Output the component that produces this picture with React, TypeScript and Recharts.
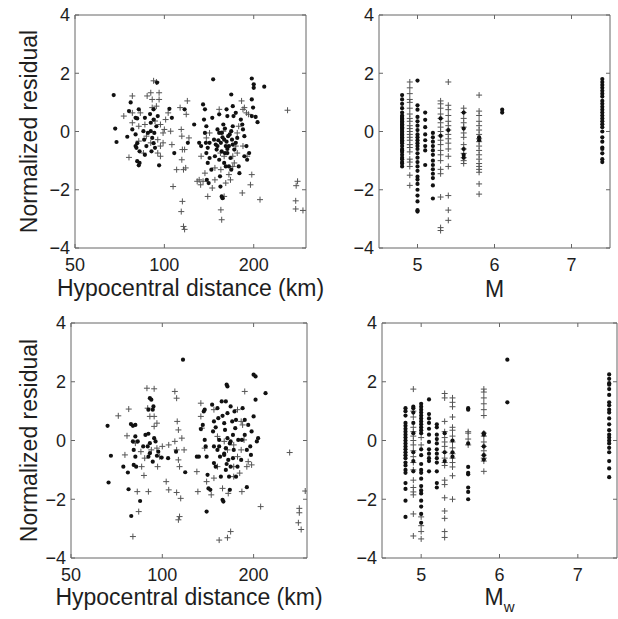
import { ScatterChart, Scatter, XAxis, YAxis } from 'recharts';

const font = '"Liberation Sans", Arial, Helvetica, sans-serif';

const distTicks = [50, 100, 200];
const magTicks = [5, 6, 7];
const resTicks = [-4, -2, 0, 2, 4];

// top row: residual vs hypocentral distance, [km, residual]
const topDistDots = [
  [67.5, 1.25], [68.3, 0.1], [69, -0.36], [75, -0.18], [77, 1.0], [76, 0.7], [80, 0.47], [81, 0.45], [78, 0.07],
  [80, -0.1], [81, -0.4], [80.5, -0.56], [82.5, -0.68], [82.5, -1.08], [81, -1.02], [82, -1.16], [86, -0.8],
  [87, -0.5], [88, -0.05], [90, 0.3], [91, -0.22], [92, -0.4], [93, -0.56], [94, 0.18], [95, 0.53], [92.5, -0.05],
  [90.5, -0.68], [96, -1.16], [94.5, 1.68], [92, 0.76], [89.5, 0.6], [85, 0.01], [85.5, -0.28], [104, 0.78],
  [106, 0.47], [108, -0.74], [117, 0.76], [120, -0.39], [126, 0.24], [131, -0.39], [133, -0.5], [135, 0.93],
  [137, 0.76], [136, 0.41], [137, -0.05], [138, -0.39], [138.5, -0.74], [140, -0.56], [139, -1.66], [141, -1.77],
  [144, -1.31], [140, -1.08], [142, -0.91], [145, 0.47], [146, 1.79], [147, -0.28], [150, -0.62], [151, 0.07],
  [153, -0.05], [153, -0.97], [154, -1.54], [155, -0.39], [156, -0.05], [158, 0.24], [159, -0.28], [160, -0.74],
  [161, -1.2], [154.5, -1.89], [156, -2.23], [157, -2.29], [162, 0.76], [163, 0.53], [164, -0.16], [165, -0.5],
  [167, -0.91], [168, 0.01], [169, -0.28], [170, 0.87], [168, 1.27], [171, 0.53], [172, -0.62], [174, -0.39],
  [176, -0.22], [178, -1.2], [179, -1.43], [181, 0.41], [183, 0.24], [184, 0.07], [186, -0.16], [189, -0.5],
  [186, -0.85], [190, -0.97], [193, -0.74], [197, 1.82], [200, 1.62], [200, 1.5], [197, 1.1], [199, 0.82],
  [197, 0.53], [203, 0.5], [206, 0.32], [217, 1.54], [174, 0.64], [153, 0.59], [148, -0.85], [159, -1.08],
  [165, -1.2], [157, -0.2], [162, -0.35], [166, -0.1], [160, 0.1], [152, -0.3], [149, -0.45], [170, -0.45],
  [163, -0.6], [80, -0.5], [90, 0.01], [86, 0.47], [92, 0.41], [82, 0.76], [138.5, 0.18], [142, -0.39],
  [151, -0.5], [161, -0.5], [170, 0.18], [163, -0.74], [168, -1.31], [156, -0.68],
];
const topDistPlus = [
  [73, 0.53], [76, -0.89], [78, 1.22], [78, 0.64], [78, 0.3], [82, 0.18], [83, 0.64], [87.5, 1.22], [90, 1.33],
  [92, 1.74], [94, 1.7], [96, 1.33], [96, 1.1], [94, 0.87], [95, -0.28], [97, -0.5], [97, -0.85], [99, -0.05],
  [100, 0.07], [101, 0.41], [103, 0.64], [105, 0.01], [106, -0.45], [107, -1.89], [110, -1.31], [113, 0.82],
  [114, 0.07], [114.5, -0.16], [115, -0.62], [114.5, -0.97], [116, -1.31], [114, -2.75], [115, -2.4], [116, -3.26],
  [117, -3.36], [118.5, 0.59], [119.5, 1.05], [117, -0.62], [118, -1.25], [129, -1.71], [131, -1.66], [132.5, -1.83],
  [135, -1.71], [137, -1.43], [140, -2.23], [145, -1.94], [148, -1.66], [153, 0.76], [154.5, -0.74], [155, -1.31],
  [158, 0.01], [161, -1.77], [159, -2.23], [155, -2.69], [156, -3.03], [165, -1.48], [167, -1.66], [170, -1.2],
  [172, -1.08], [174, -0.5], [176, -0.05], [178, 0.18], [182, 1.05], [184, 0.76], [186, 0.82], [189, 0.64],
  [192, 0.59], [183, -2.11], [197, -1.48], [195, -1.83], [210, -2.34], [190, -0.85], [184, -0.5], [142, -0.05],
  [138.5, -0.22], [133, -0.85], [90, -0.39], [87, -0.16], [85, -0.74], [82, -0.33], [86, 0.24], [91, 0.82],
  [121, -0.22], [260, 0.73], [281, -1.71], [278, -1.86], [277, -2.38], [277, -2.66], [293, -2.71],
  [93, 0.36], [97, 0.24], [91, 1.1], [99, -0.39], [95, -0.74], [159, -0.85], [170, -0.85], [176, -0.74],
  [148, -1.25],
];

// top row: residual vs M, [magnitude, residuals]
const topMagDots: [number, number[]][] = [
  [4.8, [1.25, 1.1, 0.95, 0.8, 0.65, 0.55, 0.5, 0.45, 0.4, 0.35, 0.3, 0.25, 0.2, 0.15, 0.1, 0.05, 0, -0.05, -0.1,
    -0.15, -0.2, -0.25, -0.3, -0.35, -0.4, -0.5, -0.6, -0.65, -0.7, -0.8, -0.9, -0.95, -1.05, -1.1, -1.2]],
  [5.0, [1.75, 0.9, 0.75, 0.5, 0.35, 0.2, 0.05, -0.1, -0.2, -0.3, -0.4, -0.5, -0.6, -0.75, -0.9, -1.05, -1.2, -1.35,
    -1.55, -1.65, -1.8, -2.0, -2.2, -2.4, -2.7, -2.75]],
  [5.1, [0.65, 0.4, 0.15, -0.1, -0.3, -0.5, -0.65, -1.15]],
  [5.2, [-0.05, -0.2, -0.35, -0.5, -0.65, -0.8, -1.0, -1.15, -1.3, -1.45, -1.6, -1.85, -2.3]],
  [5.3, [0.45, -0.15]],
  [5.4, [0.05]],
  [5.6, [0.65, 0.1, -0.6, -0.8, -0.9]],
  [5.8, [-0.2, -0.3]],
  [6.1, [0.75, 0.65]],
  [7.4, [1.8, 1.7, 1.6, 1.5, 1.4, 1.3, 1.2, 1.05, 0.95, 0.85, 0.75, 0.65, 0.55, 0.45, 0.35, 0.25, 0.15, 0, -0.2,
    -0.35, -0.55, -0.6, -0.75, -0.95, -1.05]],
];
const topMagPlus: [number, number[]][] = [
  [4.9, [1.7, 1.5, 1.3, 1.1, 1.0, 0.8, 0.6, 0.45, 0.35, 0.2, 0.1, 0, -0.1, -0.2, -0.3, -0.45, -0.55, -0.7, -0.95,
    -1.05, -1.2, -1.5, -1.85]],
  [5.3, [1.05, 0.95, 0.8, 0.6, 0.45, 0.3, 0.15, 0, -0.15, -0.3, -0.45, -0.65, -0.8, -1.0, -1.3, -1.45, -2.25, -3.3,
    -3.4]],
  [5.4, [1.7, 0.9, 0.75, 0.55, 0.35, 0.2, 0.05, -0.1, -0.25, -0.4, -0.6, -0.85, -1.2, -2.2, -2.7, -3.05]],
  [5.6, [0.8, 0.65, 0.45, 0.3, 0.15, -0.05, -0.2, -0.45, -0.6, -0.75, -0.9, -1.0, -1.1]],
  [5.8, [1.25, 0.7, 0.55, 0.35, 0.2, 0.05, -0.1, -0.25, -0.35, -0.5, -0.65, -0.8, -0.95, -1.1, -1.2, -1.3, -1.4,
    -1.8, -2.15]],
];

// bottom row: residual vs hypocentral distance
const botDistDots = [
  [66, 0.5], [67.7, -0.52], [66.5, -1.43], [74.4, -0.89], [77, -1.09], [77.4, -1.66], [78.8, 0.56], [80, 0.5],
  [81.5, 0.53], [81.5, 0.14], [80.5, -0.32], [81.5, -0.55], [80.5, -0.83], [82, -0.89], [84.5, -2.06], [79, -2.57],
  [83, -0.03], [86.5, -0.2], [88, 0.19], [90, 0.23], [91, -0.09], [89.5, -0.2], [91, 1.44], [92, 1.39], [93.5, 1.16],
  [93, 1.05], [90, 1.05], [94, 0.08], [95, -0.03], [96, -0.52], [97, -0.38], [93, -0.72], [91, -0.43], [99.5, -0.58],
  [117, 2.75], [104.5, -0.6], [111, -0.38], [119, -1.08], [130, -0.55], [132, -0.55], [134, 0.39], [136, 0.53],
  [137, 0.99], [138, 1.05], [138, 0.02], [139, -0.2], [140, -0.55], [140, -2.42], [141, -1.17], [142, -1.63],
  [144, -1.68], [146, 1.22], [147, 0.31], [148, 0.65], [148, -0.77], [150, -0.89], [152, 1.1], [153, 0.76],
  [154, 0.02], [154, -0.2], [155, -0.55], [156, -1.23], [157, 1.33], [158, -2.02], [159, -2.08], [160, 0.59],
  [161, 0.36], [162, -0.26], [162, -1.0], [163, 1.9], [164, 1.84], [164, 0.93], [165, -0.66], [166, -1.23],
  [167, -1.68], [168, 1.16], [168, -0.03], [170, 0.65], [171, 0.19], [172, -0.32], [173, 0.99], [174, 0.42],
  [162, 1.33], [158, 0.84], [152, -0.32], [182, -0.66], [183, 0.02], [184, 1.1], [187, 0.19], [187, 0.7],
  [190, -0.32], [190, -1.59], [192, 0.53], [195, -0.2], [196, -0.49], [200, 2.24], [203, 2.18], [203, 1.39],
  [200, 0.82], [197, 0.31], [207, 0.08], [205, -0.03], [219, 1.61], [178, 0.02], [175, -1.23], [177, -0.89],
  [160, -0.45], [167, -0.1], [150, 0.45], [163, -0.8], [171, -0.6], [80, -0.03], [90, -0.55], [148, -0.2],
  [160, -0.49], [168, -0.89], [164, 0.08], [175, 0.7],
];
const botDistPlus = [
  [71.6, 0.84], [77.5, 1.07], [75.3, -0.49], [76.5, 0.16], [82.7, -1.74], [83.6, -2.42], [80, -3.27], [87, -1.19],
  [90, -1.74], [89, 1.78], [94, 1.76], [89.5, 1.1], [91, 0.82], [94, 0.82], [96, 0.59], [94, 0.48], [96, -0.26],
  [96.5, -0.89], [98, -0.55], [100, -0.2], [87.5, -0.6], [85, -0.38], [81.5, -0.09], [105, -0.15], [103, -1.4],
  [105, -1.68], [110, 1.67], [111.5, 1.44], [112, 0.65], [113, 0.36], [110, -0.03], [111.5, -0.32], [113, -0.66],
  [114, -0.89], [111.5, -1.77], [115, -1.97], [113, -2.7], [114, -2.59], [116, 0.08], [118, -0.32], [130, -1.06],
  [131, -1.74], [134, 1.27], [134, 0.82], [138, -0.26], [140, -1.4], [145, -1.85], [148, -1.28], [148, 1.05],
  [152, 0.14], [158, -1.63], [154, -3.39], [164, -3.31], [168, -3.1], [165, -1.8], [172, -0.89], [177, -0.55],
  [172, -0.15], [182, 0.65], [184, 0.53], [187, 1.67], [186, 0.02], [183, -1.74], [190, -0.89], [192, -0.72],
  [197, -0.83], [180, -1.11], [211, -2.25], [177, 1.05], [172, -1.23], [160, -0.03], [135, 0.42], [263, -0.41],
  [296, -1.72], [283, -2.31], [283, -2.46], [281, -2.8], [287, -3.03], [92, -0.32], [85.5, -0.89], [164, -0.32],
  [152, -0.89], [182, -0.32],
];

// bottom row: residual vs Mw
const botMagDots: [number, number[]][] = [
  [4.8, [1.1, 1.0, 0.85, 0.6, 0.5, 0.4, 0.3, 0.2, 0.1, 0, -0.1, -0.2, -0.3, -0.4, -0.5, -0.6, -0.75, -0.85, -1.0,
    -1.1, -1.45, -1.65, -2.05, -2.6]],
  [4.9, [1.15, 1.1, 0.95, 0.6, 0.25, -0.4, -0.7, -1.05]],
  [5.0, [1.25, 1.15, 1.05, 0.95, 0.85, 0.75, 0.65, 0.55, 0.45, 0.35, 0.25, -0.3, -0.5, -0.8, -1.0, -1.1, -1.3, -1.55,
    -1.7, -1.8, -2.05, -2.25, -2.5, -2.8]],
  [5.1, [1.4, 0.9, 0.75, 0.6, 0.4, 0.2, -0.05, -0.3, -0.45, -0.6, -0.7, -1.05]],
  [5.2, [0.55, 0.45, 0.2, 0.05, -0.1, -0.3, -0.45, -0.6, -0.75, -1.05, -1.45, -1.6]],
  [5.3, [0.25, -0.4, -0.7]],
  [5.4, [0, -0.4, -0.55]],
  [5.6, [1.1, 1.05, -0.1, -0.9, -1.1, -1.15, -1.6, -1.75, -2.0]],
  [5.8, [0.25, 0.2, -0.2, -0.5, -0.65]],
  [6.1, [2.75, 1.3]],
  [7.4, [2.25, 2.1, 1.95, 1.9, 1.75, 1.55, 1.3, 1.2, 1.05, 0.95, 0.75, 0.55, 0.35, 0.2, 0.1, 0, -0.1, -0.25, -0.4,
    -0.7, -0.95, -1.25]],
];
const botMagPlus: [number, number[]][] = [
  [4.9, [1.75, 1.0, 0.8, 0.45, 0.3, 0.15, 0, -0.15, -0.35, -0.55, -0.75, -1.0, -1.35, -1.6, -1.75, -1.85, -2.5,
    -3.25]],
  [5.0, [0.1, -0.15, -2.6, -2.9, -3.1, -3.35]],
  [5.3, [1.6, 1.45, 0.65, 0.3, 0.1, -0.05, -0.2, -0.4, -0.6, -0.75, -0.85, -1.35, -1.5, -1.95, -2.4, -2.65, -3.1,
    -3.3]],
  [5.4, [1.45, 1.3, 1.15, 0.8, 0.45, 0.35, 0.15, -0.05, -0.25, -0.45, -0.6, -0.75, -0.9, -1.2, -2.0]],
  [5.6, [0.3, 0.25, 0.05, -0.15]],
  [5.8, [1.75, 1.65, 1.45, 1.25, 1.05, 0.85, 0.25, 0.15, -0.05, -0.2, -0.35, -0.5, -0.6, -0.7, -1.05]],
];

type Pt = { x: number; y: number };
const fromPairs = (rows: number[][]): Pt[] => rows.map(([x, y]) => ({ x, y }));
const fromColumns = (cols: [number, number[]][]): Pt[] =>
  cols.flatMap(([m, ys]) => ys.map((y) => ({ x: m, y })));

const fmtRes = (v: number) => (v < 0 ? `\u2212${Math.abs(v)}` : `${v}`);

const boxColor = '#666';
const textColor = '#1e1e1e';
const TICK = 4;
const X_GAP = 10;
const Y_GAP = 5;

function DotMark(props: any) {
  const { cx, cy } = props;
  if (cx == null || cy == null) return null;
  return <circle cx={cx} cy={cy} r={2.1} fill="#111" />;
}

function PlusMark(props: any) {
  const { cx, cy } = props;
  if (cx == null || cy == null) return null;
  return (
    <path
      d={`M${cx - 3},${cy}H${cx + 3}M${cx},${cy - 3}V${cy + 3}`}
      stroke="#555"
      strokeWidth={1}
      fill="none"
    />
  );
}

const axisStroke = { stroke: boxColor, strokeWidth: 1 };

// tick marks point into the box, MATLAB style
function BottomTick(props: any) {
  const x = Number(props.x);
  const y = Number(props.y);
  const edge = y - X_GAP;
  return (
    <g>
      <path d={`M${x},${edge}V${edge - TICK}`} stroke={boxColor} strokeWidth={1} fill="none" />
      <text x={x} y={y} dy="0.71em" textAnchor="middle" fontSize={18} fill={textColor} fontFamily={font}>
        {props.payload.value}
      </text>
    </g>
  );
}

function TopTick(props: any) {
  const x = Number(props.x);
  const y = Number(props.y);
  return <path d={`M${x},${y}V${y + TICK}`} stroke={boxColor} strokeWidth={1} fill="none" />;
}

function LeftTick(props: any) {
  const x = Number(props.x);
  const y = Number(props.y);
  const edge = x + Y_GAP;
  return (
    <g>
      <path d={`M${edge},${y}H${edge + TICK}`} stroke={boxColor} strokeWidth={1} fill="none" />
      <text x={x} y={y} dy="0.355em" textAnchor="end" fontSize={18} fill={textColor} fontFamily={font}>
        {fmtRes(props.payload.value)}
      </text>
    </g>
  );
}

function RightTick(props: any) {
  const x = Number(props.x);
  const y = Number(props.y);
  return <path d={`M${x - TICK},${y}H${x}`} stroke={boxColor} strokeWidth={1} fill="none" />;
}

interface PanelProps {
  left: number;
  top: number;
  width: number;
  height: number;
  margin: { top: number; right: number; bottom: number; left: number };
  yWidth: number;
  xHeight: number;
  log?: boolean;
  domain: [number, number];
  ticks: number[];
  dots: Pt[];
  plus: Pt[];
}

function Panel({ left, top, width, height, margin, yWidth, xHeight, log, domain, ticks, dots, plus }: PanelProps) {
  const scale = log ? 'log' : 'linear';
  return (
    <div style={{ position: 'absolute', left, top, width, height }}>
      <ScatterChart width={width} height={height} margin={margin}>
        <XAxis
          xAxisId="b"
          type="number"
          dataKey="x"
          scale={scale}
          domain={domain}
          ticks={ticks}
          interval={0}
          allowDataOverflow
          height={xHeight}
          axisLine={axisStroke}
          tickLine={false}
          tickSize={0}
          tickMargin={X_GAP}
          tick={<BottomTick />}
        />
        <XAxis
          xAxisId="t"
          orientation="top"
          type="number"
          dataKey="x"
          scale={scale}
          domain={domain}
          ticks={ticks}
          interval={0}
          allowDataOverflow
          height={1}
          axisLine={axisStroke}
          tickLine={false}
          tickSize={0}
          tickMargin={0}
          tick={<TopTick />}
        />
        <YAxis
          yAxisId="l"
          type="number"
          dataKey="y"
          domain={[-4, 4]}
          ticks={resTicks}
          interval={0}
          allowDataOverflow
          width={yWidth}
          axisLine={axisStroke}
          tickLine={false}
          tickSize={0}
          tickMargin={Y_GAP}
          tick={<LeftTick />}
        />
        <YAxis
          yAxisId="r"
          orientation="right"
          type="number"
          dataKey="y"
          domain={[-4, 4]}
          ticks={resTicks}
          interval={0}
          allowDataOverflow
          width={1}
          axisLine={axisStroke}
          tickLine={false}
          tickSize={0}
          tickMargin={0}
          tick={<RightTick />}
        />
        <Scatter xAxisId="b" yAxisId="l" data={plus} shape={PlusMark} isAnimationActive={false} />
        <Scatter xAxisId="b" yAxisId="l" data={dots} shape={DotMark} isAnimationActive={false} />
      </ScatterChart>
    </div>
  );
}

export default function App() {
  const titleStyle = { fontSize: 23, fill: textColor, fontFamily: font };
  return (
    <div style={{ position: 'absolute', left: 0, top: 0, width: 618, height: 619, background: '#fff' }}>
      <Panel
        left={0}
        top={0}
        width={310}
        height={305}
        margin={{ top: 14, right: 3, bottom: 0, left: 0 }}
        yWidth={75}
        xHeight={57}
        log
        domain={[50, 300]}
        ticks={distTicks}
        dots={fromPairs(topDistDots)}
        plus={fromPairs(topDistPlus)}
      />
      <Panel
        left={310}
        top={0}
        width={308}
        height={305}
        margin={{ top: 14, right: 7, bottom: 0, left: 0 }}
        yWidth={69}
        xHeight={57}
        domain={[4.5, 7.5]}
        ticks={magTicks}
        dots={fromColumns(topMagDots)}
        plus={fromColumns(topMagPlus)}
      />
      <Panel
        left={0}
        top={305}
        width={310}
        height={314}
        margin={{ top: 17, right: 2, bottom: 0, left: 0 }}
        yWidth={71}
        xHeight={61}
        log
        domain={[50, 300]}
        ticks={distTicks}
        dots={fromPairs(botDistDots)}
        plus={fromPairs(botDistPlus)}
      />
      <Panel
        left={310}
        top={305}
        width={308}
        height={314}
        margin={{ top: 17, right: 0, bottom: 0, left: 0 }}
        yWidth={72}
        xHeight={61}
        domain={[4.5, 7.5]}
        ticks={magTicks}
        dots={fromColumns(botMagDots)}
        plus={fromColumns(botMagPlus)}
      />
      <svg
        width={618}
        height={619}
        style={{ position: 'absolute', left: 0, top: 0, pointerEvents: 'none' }}
      >
        <text x={37} y={131.5} textAnchor="middle" transform="rotate(-90 37 131.5)" {...titleStyle}>
          Normalized residual
        </text>
        <text x={37} y={440.5} textAnchor="middle" transform="rotate(-90 37 440.5)" {...titleStyle}>
          Normalized residual
        </text>
        <text x={190.5} y={296} textAnchor="middle" {...titleStyle}>
          Hypocentral distance (km)
        </text>
        <text x={494.5} y={297} textAnchor="middle" {...titleStyle}>
          M
        </text>
        <text x={189} y={605} textAnchor="middle" {...titleStyle}>
          Hypocentral distance (km)
        </text>
        <text x={499.5} y={605} textAnchor="middle" {...titleStyle}>
          M
          <tspan dy={7} fontSize={15}>
            w
          </tspan>
        </text>
      </svg>
    </div>
  );
}
